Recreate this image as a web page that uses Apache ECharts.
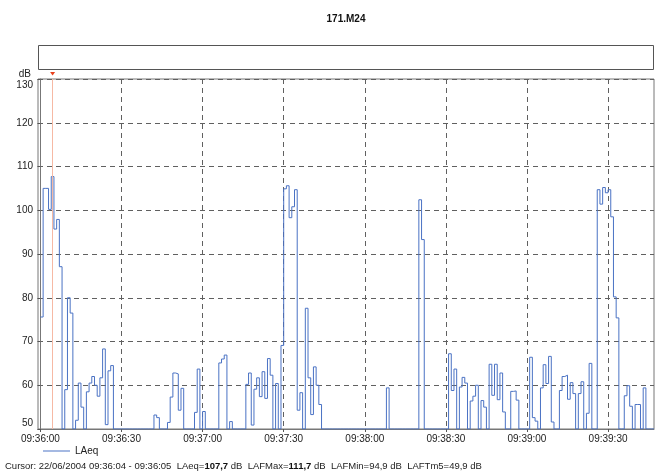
<!DOCTYPE html>
<html><head><meta charset="utf-8">
<script src="https://cdn.jsdelivr.net/npm/echarts@6/dist/echarts.min.js"></script>
<style>html,body{margin:0;padding:0;background:#fff}#c{width:656px;height:473px}</style>
</head><body><div id="c"></div>
<script>
const chartTitle = '171.M24';
const seriesName = 'LAeq';
const unitLabel = 'dB';
// one value per second, second 0 = 09:36:00
const laeq = [
  75.6,105,105,100.2,107.7,95.7,97.9,87.1,50,59,
  80,76.5,50,52,60.5,55,50,58.5,60.5,62,
  60,57.5,61.7,68.3,51,63.3,64.5,50,50,50,
  50,50,50,50,50,50,50,50,50,50,
  50,50,53.2,52.6,50,50,50,51.5,57.3,62.8,
  62.6,54.3,59.3,50,50,50,50,53.8,63.7,50,
  54,50,50,50,50,50,65.1,66,66.9,50,
  51.7,50,50,50,50,50,60.2,62.8,50.9,59.1,
  61.7,57.4,63.1,57,66.1,62.3,50,60.4,50,69.1,
  104.9,105.6,98.3,100.8,104.7,54.3,58.3,50,77.6,61.7,
  53.3,64.2,60,55.6,50,50,50,50,50,50,
  50,50,50,50,50,50,50,50,50,50,
  50,50,50,50,50,50,50,50,59.4,50,
  50,50,50,50,50,50,50,50,50,50,
  102.4,93.3,50,50,50,50,50,50,50,50,
  50,67.2,58.8,63.7,50,59.6,61.8,60.5,50,56.4,
  57.5,60,50,56.5,55,50,64.8,57.7,64.8,56.7,
  62.8,53.9,50,50,58.6,58.7,56.6,50,50,50,
  50,66.4,52.6,51.8,50,59.4,64.7,60.4,66.6,51.6,
  50,50,58.8,62,62.3,56.8,60.6,58.1,50,58.1,
  60.8,50,53.6,65,50,50,104.7,101.4,105.2,104,
  104.7,98.5,80.2,75.4,50,50,57.6,59.9,55.2,50,
  55.6,55.6,50,59.4,50,50,50
];
const xTickSeconds = [0, 30, 60, 90, 120, 150, 180, 210];
const xTickLabels = ['09:36:00', '09:36:30', '09:37:00', '09:37:30', '09:38:00', '09:38:30', '09:39:00', '09:39:30'];
const xStart = -0.9, xEnd = 227;
const yMin = 50, yMax = 130, yStep = 10;
const cursorSecond = 4;
const cursorParts = [
  ['Cursor: 22/06/2004 09:36:04 - 09:36:05  LAeq=', 'n'], ['107,7', 'b'],
  [' dB  LAFMax=', 'n'], ['111,7', 'b'], [' dB  LAFMin=94,9 dB  LAFTm5=49,9 dB', 'n']
];

const FONT = "'Liberation Sans', Arial, sans-serif";
const data = laeq.map((v, i) => [i, v]);
data.push([laeq.length, laeq[laeq.length - 1]]);

const chart = echarts.init(document.getElementById('c'), null, { renderer: 'canvas' });
const gridLine = { show: true, lineStyle: { color: '#606060', width: 1, type: [5, 4] } };
chart.setOption({
  animation: false,
  backgroundColor: '#fff',
  textStyle: { fontFamily: FONT },
  grid: { left: 38, right: 2, top: 79, bottom: 44, show: true, borderColor: '#777', borderWidth: 1, containLabel: false, outerBoundsMode: 'none' },
  legend: {
    left: 38, top: 441, itemWidth: 27, itemHeight: 1, icon: 'rect',
    textStyle: { fontFamily: FONT, fontSize: 10, color: '#222' },
    data: [seriesName]
  },
  xAxis: {
    type: 'value',
    min: xStart, max: xEnd,
    axisLine: { show: true, lineStyle: { color: '#777' } },
    axisTick: { show: true, length: 3, customValues: xTickSeconds, lineStyle: { color: '#555' } },
    splitLine: gridLine,
    axisLabel: {
      customValues: xTickSeconds,
      fontFamily: FONT, fontSize: 10, color: '#222', margin: 5,
      formatter: v => xTickLabels[xTickSeconds.indexOf(Math.round(v))] || ''
    }
  },
  yAxis: {
    type: 'value', min: yMin, max: yMax, interval: yStep,
    axisLine: { show: true, lineStyle: { color: '#777' } },
    axisTick: { show: true, length: 3, lineStyle: { color: '#555' } },
    splitLine: gridLine,
    axisLabel: {
      fontFamily: FONT, fontSize: 10, color: '#222', margin: 5,
      formatter: v => v === yMin ? '{lo|' + v + '}' : (v === yMax ? '{hi|' + v + '}' : String(v)),
      rich: {
        lo: { fontFamily: FONT, fontSize: 10, color: '#222', padding: [0, 0, 12, 0] },
        hi: { fontFamily: FONT, fontSize: 10, color: '#222', padding: [12, 0, 0, 0] }
      }
    }
  },
  series: [{
    name: seriesName, type: 'line', step: 'end', symbol: 'none', data: data,
    lineStyle: { color: '#4a72c4', width: 1 }, itemStyle: { color: '#4a72c4' },
    markLine: {
      silent: true, symbol: 'none', label: { show: false },
      lineStyle: { color: '#f6b9a4', type: 'solid', width: 1 },
      data: [{ xAxis: cursorSecond + 0.5 }]
    }
  }]
});

const cx = chart.convertToPixel({ xAxisIndex: 0 }, cursorSecond + 0.5);
chart.setOption({
  graphic: [
    { type: 'text', x: 346, y: 19, style: { text: chartTitle, fontFamily: FONT, fontSize: 10, fontWeight: 'bold', fill: '#111', align: 'center', verticalAlign: 'middle' } },
    { type: 'rect', shape: { x: 38.5, y: 45.5, width: 615, height: 24 }, style: { fill: '#fff', stroke: '#555', lineWidth: 1 } },
    { type: 'text', x: 31, y: 74, style: { text: unitLabel, fontFamily: FONT, fontSize: 10, fill: '#222', align: 'right', verticalAlign: 'middle' } },
    { type: 'polygon', shape: { points: [[cx - 2.5, 72], [cx + 2.5, 72], [cx, 75.5]] }, style: { fill: '#e8401c' } },
    { type: 'text', x: 5, y: 466, style: {
        text: cursorParts.map(p => '{' + p[1] + '|' + p[0] + '}').join(''),
        verticalAlign: 'middle',
        rich: {
          n: { fontFamily: FONT, fontSize: 9.5, fill: '#222' },
          b: { fontFamily: FONT, fontSize: 9.5, fill: '#111', fontWeight: 'bold' }
        }
      } }
  ]
});
</script></body></html>
